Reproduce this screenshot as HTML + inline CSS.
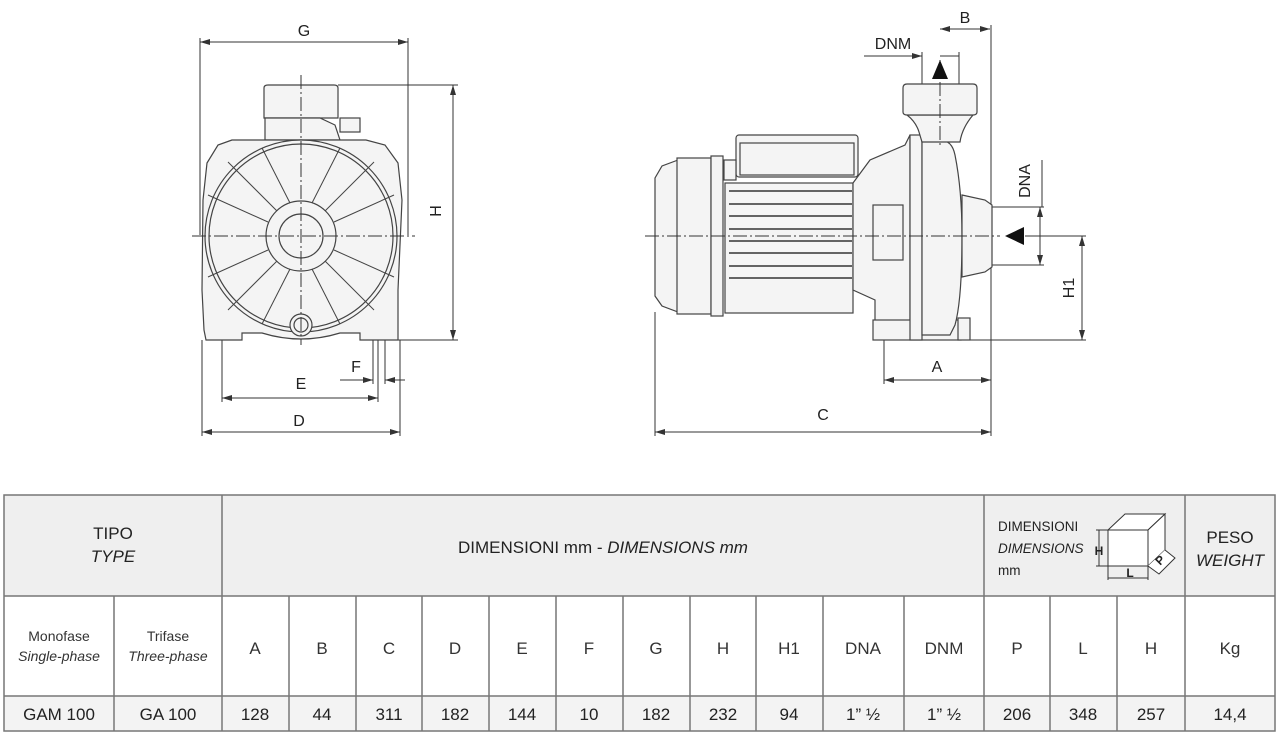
<!DOCTYPE html>
<html><head><meta charset="utf-8"><style>
html,body{margin:0;padding:0;background:#fff;}
svg{display:block;font-family:"Liberation Sans",sans-serif;}
</style></head><body>
<svg width="1280" height="734" viewBox="0 0 1280 734" xmlns="http://www.w3.org/2000/svg">
<defs>
<marker id="a" viewBox="0 0 10 6" refX="10" refY="3" markerWidth="10" markerHeight="6" orient="auto-start-reverse" markerUnits="userSpaceOnUse"><path d="M0,0 L10,3 L0,6 z" fill="#333"/></marker>
</defs>
<!-- ============ FRONT VIEW ============ -->
<g stroke="#333" stroke-width="1" fill="none">
<line x1="200" y1="38" x2="200" y2="235"/>
<line x1="408" y1="38" x2="408" y2="235"/>
<line x1="202" y1="340" x2="202" y2="436"/>
<line x1="400" y1="340" x2="400" y2="436"/>
<line x1="222" y1="335" x2="222" y2="402"/>
<line x1="378" y1="335" x2="378" y2="402"/>
<line x1="373" y1="335" x2="373" y2="384"/>
<line x1="385" y1="335" x2="385" y2="384"/>
<line x1="338" y1="85" x2="458" y2="85"/>
<line x1="398" y1="340" x2="458" y2="340"/>
<line x1="200" y1="42" x2="408" y2="42" marker-start="url(#a)" marker-end="url(#a)"/>
<line x1="453" y1="85" x2="453" y2="340" marker-start="url(#a)" marker-end="url(#a)"/>
<line x1="222" y1="398" x2="378" y2="398" marker-start="url(#a)" marker-end="url(#a)"/>
<line x1="202" y1="432" x2="400" y2="432" marker-start="url(#a)" marker-end="url(#a)"/>
<line x1="340" y1="380" x2="373" y2="380" marker-end="url(#a)"/>
<line x1="405" y1="380" x2="385" y2="380" marker-end="url(#a)"/>
</g>
<g stroke="#444" stroke-width="1.2" fill="#f4f4f4">
<path d="M264,88 Q264,85 268,85 L334,85 Q338,85 338,88 L338,118 L264,118 Z"/>
<path d="M265,118 L265,140 L340,140 L335,125 L320,118 Z"/>
<path d="M232,140 L218,145 L207,163 L203,200 L202,290 L204,330 L206,340 L242,340 L242,333 L262,333 Q301,345 340,333 L360,333 L360,340 L398,340 L398,290 L402,200 L398,163 L385,145 L366,140 Z"/>
<circle cx="301" cy="236" r="96"/>
<circle cx="301" cy="236" r="92"/>
<circle cx="301" cy="236" r="35"/>
<circle cx="301" cy="236" r="22"/>
<circle cx="301" cy="325" r="11"/>
<circle cx="301" cy="325" r="7"/>
<rect x="340" y="118" width="20" height="14"/>
</g>
<g stroke="#444" stroke-width="1">
<line x1="277" y1="211" x2="228" y2="162"/><line x1="325" y1="211" x2="374" y2="162"/>
<line x1="277" y1="261" x2="228" y2="310"/><line x1="325" y1="261" x2="374" y2="310"/>
<line x1="268" y1="222" x2="208" y2="195"/><line x1="334" y1="222" x2="394" y2="195"/>
<line x1="268" y1="250" x2="208" y2="277"/><line x1="334" y1="250" x2="394" y2="277"/>
<line x1="290" y1="203" x2="262" y2="148"/><line x1="312" y1="203" x2="340" y2="148"/>
<line x1="290" y1="269" x2="262" y2="324"/><line x1="312" y1="269" x2="340" y2="324"/>
</g>
<g stroke="#333" stroke-width="1" stroke-dasharray="14,3,2,3">
<line x1="192" y1="236" x2="415" y2="236"/>
<line x1="301" y1="75" x2="301" y2="345"/>
</g>
<g font-size="16" fill="#222" text-anchor="middle">
<text x="304" y="36">G</text>
<text x="301" y="389">E</text>
<text x="356" y="372">F</text>
<text x="299" y="426">D</text>
<text transform="translate(441,211) rotate(-90)">H</text>
</g>
<!-- ============ SIDE VIEW ============ -->
<g stroke="#333" stroke-width="1" fill="none">
<line x1="991" y1="25" x2="991" y2="436"/>
<line x1="655" y1="312" x2="655" y2="436"/>
<line x1="884" y1="340" x2="884" y2="384"/>
<line x1="922" y1="52" x2="922" y2="87"/>
<line x1="959" y1="52" x2="959" y2="87"/>
<line x1="992" y1="207" x2="1044" y2="207"/>
<line x1="992" y1="265" x2="1044" y2="265"/>
<line x1="1042" y1="160" x2="1042" y2="207"/>
<line x1="1025" y1="236" x2="1086" y2="236"/>
<line x1="960" y1="340" x2="1086" y2="340"/>
<line x1="940" y1="29" x2="990" y2="29" marker-start="url(#a)" marker-end="url(#a)"/>
<line x1="864" y1="56" x2="922" y2="56" marker-end="url(#a)"/>
<line x1="959" y1="56" x2="940" y2="56"/>
<line x1="1040" y1="207" x2="1040" y2="265" marker-start="url(#a)" marker-end="url(#a)"/>
<line x1="1082" y1="236" x2="1082" y2="340" marker-start="url(#a)" marker-end="url(#a)"/>
<line x1="884" y1="380" x2="991" y2="380" marker-start="url(#a)" marker-end="url(#a)"/>
<line x1="655" y1="432" x2="991" y2="432" marker-start="url(#a)" marker-end="url(#a)"/>
</g>
<g stroke="#444" stroke-width="1.2" fill="#f4f4f4">
<path d="M678,160 L662,166 L655,178 L655,296 L662,306 L678,312 Z"/>
<rect x="677" y="158" width="34" height="156"/>
<rect x="711" y="156" width="12" height="160"/>
<rect x="736" y="135" width="122" height="42" rx="3"/>
<rect x="740" y="143" width="114" height="32"/>
<rect x="724" y="160" width="12" height="20"/>
<rect x="725" y="183" width="128" height="130"/>
<path d="M853,183 L870,160 L905,145 L910,135 L910,335 L875,335 L875,300 L853,290 Z"/>
<rect x="873" y="205" width="30" height="55"/>
<rect x="873" y="320" width="88" height="20"/>
<rect x="910" y="135" width="12" height="205"/>
<path d="M922,140 L940,140 Q952,140 955,155 Q962,190 962,236 Q962,300 955,325 L950,335 L922,335 Z"/>
<path d="M962,195 L985,200 L992,205 L992,267 L985,272 L962,277 Z"/>
<path d="M907,115 Q916,122 919,132 L922,142 L960,142 Q962,128 973,115 Z"/>
<path d="M903,88 Q903,84 907,84 L973,84 Q977,84 977,88 L977,112 Q977,115 973,115 L907,115 Q903,115 903,112 Z"/>
<rect x="958" y="318" width="12" height="22"/>
</g>
<g stroke="#333" stroke-width="1.6">
<line x1="729" y1="191" x2="852" y2="191"/><line x1="729" y1="204" x2="852" y2="204"/>
<line x1="729" y1="216" x2="852" y2="216"/><line x1="729" y1="229" x2="852" y2="229"/>
<line x1="729" y1="241" x2="852" y2="241"/><line x1="729" y1="253" x2="852" y2="253"/>
<line x1="729" y1="266" x2="852" y2="266"/><line x1="729" y1="278" x2="852" y2="278"/>
</g>
<g stroke="#333" stroke-width="1" stroke-dasharray="14,3,2,3">
<line x1="645" y1="236" x2="1000" y2="236"/>
<line x1="940" y1="60" x2="940" y2="145"/>
</g>
<path d="M940,60 L948,79 L932,79 Z" fill="#111"/>
<path d="M1005,236 L1024,227 L1024,245 Z" fill="#111"/>
<g font-size="16" fill="#222" text-anchor="middle">
<text x="965" y="23">B</text>
<text x="893" y="49">DNM</text>
<text x="937" y="372">A</text>
<text x="823" y="420">C</text>
<text transform="translate(1030,181) rotate(-90)">DNA</text>
<text transform="translate(1074,288) rotate(-90)">H1</text>
</g>
<!-- ============ TABLE ============ -->
<rect x="4" y="495" width="1271" height="101" fill="#efefef"/>
<rect x="4" y="696" width="1271" height="35" fill="#f3f3f3"/>
<g stroke="#777" stroke-width="1.5" fill="none">
<rect x="4" y="495" width="1271" height="236"/>
<line x1="4" y1="596" x2="1275" y2="596"/>
<line x1="4" y1="696" x2="1275" y2="696"/>
<line x1="222" y1="495" x2="222" y2="731"/>
<line x1="984" y1="495" x2="984" y2="731"/>
<line x1="1185" y1="495" x2="1185" y2="731"/>
<line x1="114" y1="596" x2="114" y2="731"/>
<line x1="289" y1="596" x2="289" y2="731"/><line x1="356" y1="596" x2="356" y2="731"/>
<line x1="422" y1="596" x2="422" y2="731"/><line x1="489" y1="596" x2="489" y2="731"/>
<line x1="556" y1="596" x2="556" y2="731"/><line x1="623" y1="596" x2="623" y2="731"/>
<line x1="690" y1="596" x2="690" y2="731"/><line x1="756" y1="596" x2="756" y2="731"/>
<line x1="823" y1="596" x2="823" y2="731"/><line x1="904" y1="596" x2="904" y2="731"/>
<line x1="1050" y1="596" x2="1050" y2="731"/><line x1="1117" y1="596" x2="1117" y2="731"/>
</g>
<g fill="#222" text-anchor="middle" font-size="17">
<text x="113" y="539">TIPO</text>
<text x="113" y="562" font-style="italic">TYPE</text>
<text x="603" y="553">DIMENSIONI mm - <tspan font-style="italic">DIMENSIONS mm</tspan></text>
<text x="1230" y="543">PESO</text>
<text x="1230" y="566" font-style="italic">WEIGHT</text>
</g>
<g fill="#222" font-size="13.5">
<text x="998" y="531">DIMENSIONI</text>
<text x="998" y="553" font-style="italic">DIMENSIONS</text>
<text x="998" y="575">mm</text>
</g>
<g stroke="#333" stroke-width="1" fill="#fff">
<path d="M1108,530 L1125,514 L1165,514 L1148,530 Z"/>
<path d="M1148,530 L1165,514 L1165,550 L1148,566 Z"/>
<rect x="1108" y="530" width="40" height="36"/>
<line x1="1096" y1="530" x2="1108" y2="530"/><line x1="1096" y1="566" x2="1108" y2="566"/>
<line x1="1099" y1="530" x2="1099" y2="566"/>
<line x1="1108" y1="566" x2="1108" y2="580"/><line x1="1148" y1="566" x2="1148" y2="580"/>
<line x1="1108" y1="578" x2="1148" y2="578"/>
<path d="M1148,566 L1159,574 L1175,558 L1165,550"/>
</g>
<g fill="#222" font-size="12" font-weight="bold" text-anchor="middle">
<text x="1099" y="555">H</text>
<text x="1130" y="577">L</text>
<text transform="translate(1163,563) rotate(-45)">P</text>
</g>
<g fill="#333" text-anchor="middle" font-size="14">
<text x="59" y="641">Monofase</text>
<text x="59" y="661" font-style="italic">Single-phase</text>
<text x="168" y="641">Trifase</text>
<text x="168" y="661" font-style="italic">Three-phase</text>
</g>
<g fill="#333" text-anchor="middle" font-size="17">
<text x="255" y="654">A</text><text x="322" y="654">B</text><text x="389" y="654">C</text>
<text x="455" y="654">D</text><text x="522" y="654">E</text><text x="589" y="654">F</text>
<text x="656" y="654">G</text><text x="723" y="654">H</text><text x="789" y="654">H1</text>
<text x="863" y="654">DNA</text><text x="944" y="654">DNM</text><text x="1017" y="654">P</text>
<text x="1083" y="654">L</text><text x="1151" y="654">H</text><text x="1230" y="654">Kg</text>
</g>
<g fill="#222" text-anchor="middle" font-size="17">
<text x="59" y="720">GAM 100</text><text x="168" y="720">GA 100</text>
<text x="255" y="720">128</text><text x="322" y="720">44</text><text x="389" y="720">311</text>
<text x="455" y="720">182</text><text x="522" y="720">144</text><text x="589" y="720">10</text>
<text x="656" y="720">182</text><text x="723" y="720">232</text><text x="789" y="720">94</text>
<text x="863" y="720">1” ½</text><text x="944" y="720">1” ½</text><text x="1017" y="720">206</text>
<text x="1083" y="720">348</text><text x="1151" y="720">257</text><text x="1230" y="720">14,4</text>
</g>
</svg>
</body></html>
